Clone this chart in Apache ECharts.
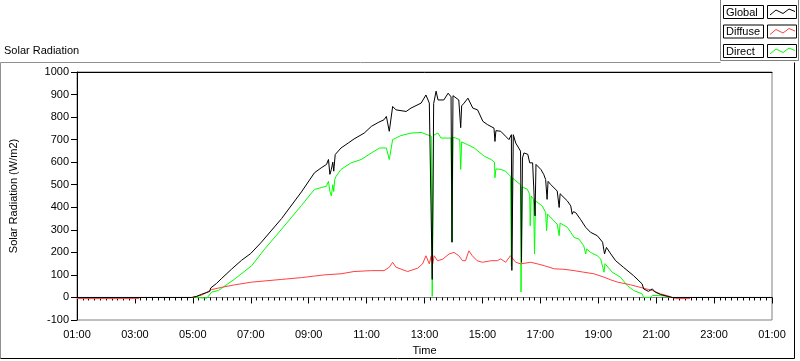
<!DOCTYPE html>
<html>
<head>
<meta charset="utf-8">
<title>Solar Radiation</title>
<script src="https://cdn.jsdelivr.net/npm/echarts@6/dist/echarts.min.js"></script>
<style>
  html, body { margin: 0; padding: 0; background: #fff; }
  #chart { width: 800px; height: 361px; }
</style>
</head>
<body>
<div id="chart"></div>
<script>
var seriesNames = ['Global', 'Diffuse', 'Direct'];
var seriesColors = ['#000000', '#ff4040', '#00ff00'];

// clock times ("25:00" = 01:00 next day), values in W/m2
var globalTimes = ['01:00','04:58','05:08','05:18','05:29','05:35','05:37','05:49','06:00','06:20','06:41','07:00','07:22','08:04','08:45','09:12','09:26','09:37','09:41','09:44','09:47','09:50','09:52','09:55','10:07','10:22','10:34','10:55','11:10','11:24','11:36','11:41','11:47','11:54','12:01','12:22','12:32','12:53','13:03','13:10','13:14','13:16','13:19','13:24','13:28','13:40','13:49','13:55','13:57','13:59','14:11','14:15','14:17','14:22','14:30','14:40','14:50','15:01','15:11','15:24','15:26','15:28','15:38','15:48','15:55','16:00','16:01','16:04','16:09','16:19','16:21','16:23','16:26','16:34','16:38','16:44','16:49','16:51','16:54','17:01','17:07','17:11','17:14','17:16','17:21','17:35','17:39','17:41','17:56','18:03','18:06','18:08','18:13','18:23','18:34','18:44','18:58','19:09','19:13','19:17','19:26','19:36','19:52','20:13','20:31','20:34','20:38','20:44','20:52','20:58','21:09','21:23','21:33','25:00'];
var globalValues = [0,0,5,14,22,27,42,62,85,125,165,195,245,350,468,553,575,590,612,546,568,600,560,634,663,685,703,729,759,776,788,803,737,847,832,825,840,862,898,862,854,80,860,915,876,876,906,890,245,895,876,753,850,862,884,840,832,781,766,751,692,740,737,715,700,722,120,722,685,649,156,619,641,635,597,597,362,590,582,568,546,523,435,515,502,472,399,460,428,406,369,380,377,347,311,289,274,245,193,222,193,163,134,97,60,38,31,27,38,24,13,5,0,0];

// null = stretch where the red trace sits under the black one
var diffuseTimes = ['01:00','03:09','03:10','05:00','05:18','05:39','06:00','06:27','07:02','08:04','08:45','09:12','09:32','10:07','10:34','11:10','11:36','11:47','11:54','12:01','12:25','12:46','12:56','13:03','13:10','13:14','13:17','13:20','13:27','13:38','13:51','14:01','14:11','14:19','14:25','14:32','14:39','14:49','15:00','15:18','15:31','15:38','15:48','15:58','16:02','16:09','16:19','16:40','16:54','17:08','17:29','17:49','18:10','18:30','18:51','19:12','19:26','19:40','20:07','20:34','20:52','21:09','21:26','21:40','22:10'];
var diffuseValues = [-5,-5,null,0,10,35,45,56,68,80,88,95,100,105,115,119,119,134,156,134,115,130,149,185,149,185,149,185,163,170,193,200,185,163,163,207,185,163,156,163,163,171,156,185,193,156,149,156,149,141,127,125,119,112,105,90,78,68,56,41,31,16,6,-5,-5];

var directTimes = ['04:58','05:29','05:33','05:39','05:53','06:27','07:02','07:29','08:04','08:45','09:12','09:26','09:37','09:41','09:44','09:47','09:50','09:52','09:54','09:57','10:07','10:28','10:49','11:10','11:27','11:41','11:47','11:54','12:11','12:32','12:53','13:14','13:16','13:19','13:28','13:34','13:55','13:57','13:59','14:05','14:13','14:15','14:17','14:29','14:43','15:04','15:18','15:25','15:26','15:28','15:38','15:48','15:58','16:00','16:02','16:05','16:19','16:20','16:22','16:26','16:33','16:38','16:39','16:41','16:46','16:48','16:50','16:53','17:04','17:11','17:13','17:15','17:18','17:28','17:35','17:39','17:41','17:56','18:03','18:10','18:20','18:30','18:34','18:36','18:44','18:58','19:05','19:12','19:14','19:17','19:29','19:46','20:00','20:13','20:31','20:34','20:48','20:52','21:09','21:22','21:26'];
var directValues = [0,-3,-9,24,31,82,141,215,303,408,479,487,494,515,470,450,500,470,523,538,568,597,612,641,663,663,612,700,718,729,732,715,5,720,729,707,707,245,710,707,700,568,690,678,663,626,612,600,531,570,568,560,538,140,530,523,500,24,490,487,480,457,318,450,435,193,428,421,406,377,296,370,362,340,325,274,330,311,289,266,259,229,193,215,200,185,171,112,150,149,112,90,53,31,16,0,0,9,8,6,0];

// x axis runs in hours after 01:00 so that min is a multiple of the interval
function toX(t) {
    var p = t.split(':');
    return +p[0] + (+p[1]) / 60 - 1;
}
function pairs(times, values) {
    return times.map(function (t, i) { return [toX(t), values[i]]; });
}
function pad(n) { return (n < 10 ? '0' : '') + n; }

var font = 'Liberation Sans, Arial, sans-serif';
var chart = echarts.init(document.getElementById('chart'));

function legendRow(i) {
    var top = 5 + i * 19.5;
    var c = seriesColors[i];
    return {
        type: 'group',
        children: [
            { type: 'rect', shape: { x: 723.5, y: top + 0.5, width: 40, height: 13 },
              style: { fill: '#fff', stroke: '#000', lineWidth: 1 } },
            { type: 'text', style: { x: 726, y: top + 7.5, text: seriesNames[i], fill: '#000',
              font: '11px ' + font, verticalAlign: 'middle' } },
            { type: 'rect', shape: { x: 767.5, y: top + 0.5, width: 29, height: 13 },
              style: { fill: '#fff', stroke: '#000', lineWidth: 1 } },
            { type: 'polyline', shape: { points: [[770, top + 10], [776, top + 5], [783, top + 8.5], [789, top + 4], [795, top + 6.5]] },
              style: { stroke: c, lineWidth: 1, fill: null } }
        ]
    };
}

var option = {
    backgroundColor: '#fff',
    animation: false,
    textStyle: { fontFamily: font },
    grid: { left: 75, right: 28, top: 72, bottom: 39, show: true, borderColor: '#808080', borderWidth: 1 },
    graphic: [
        // outer panel frame
        { type: 'polyline', shape: { points: [[0.5, 358.5], [0.5, 62.5], [720.5, 62.5]] }, style: { stroke: '#909090', lineWidth: 1, fill: null } },
        { type: 'polyline', shape: { points: [[0.5, 358.5], [794.5, 358.5], [794.5, 62.5]] }, style: { stroke: '#000', lineWidth: 1, fill: null } },
        // legend panel
        { type: 'polyline', shape: { points: [[720.5, 0], [720.5, 60.5], [798.5, 60.5], [798.5, 0]] }, style: { stroke: '#808080', lineWidth: 1, fill: null } },
        { type: 'text', style: { x: 4, y: 51, text: 'Solar Radiation', fill: '#000', font: '11px ' + font, verticalAlign: 'middle' } },
        legendRow(0), legendRow(1), legendRow(2)
    ],
    xAxis: [{
        type: 'value',
        min: 0, max: 24, interval: 2,
        name: 'Time', nameLocation: 'middle', nameGap: 25,
        nameTextStyle: { color: '#000', fontSize: 11 },
        axisLine: { show: true, lineStyle: { color: '#808080' } },
        axisTick: { show: true, length: 6, lineStyle: { color: '#000' } },
        minorTick: { show: true, splitNumber: 10, length: 3, lineStyle: { color: '#000' } },
        splitLine: { show: false },
        axisLabel: { color: '#000', fontSize: 11, margin: 9,
            formatter: function (v) { return pad((v + 1) % 24) + ':00'; } }
    }, {
        type: 'value', position: 'top', min: 0, max: 24,
        axisLine: { show: true, onZero: false, lineStyle: { color: '#000' } },
        axisTick: { show: false }, axisLabel: { show: false }, splitLine: { show: false }
    }],
    yAxis: {
        type: 'value',
        min: -100, max: 1000, interval: 100,
        name: 'Solar Radiation (W/m2)', nameLocation: 'middle', nameGap: 58, nameRotate: 90,
        nameTextStyle: { color: '#000', fontSize: 11 },
        axisLine: { show: true, lineStyle: { color: '#000' } },
        axisTick: { show: true, length: 6, lineStyle: { color: '#000' } },
        splitLine: { show: false },
        axisLabel: { color: '#000', fontSize: 11, margin: 8, formatter: function (v) { return String(v); } }
    },
    series: [
        { name: seriesNames[2], type: 'line', data: pairs(directTimes, directValues), showSymbol: false,
          lineStyle: { color: seriesColors[2], width: 1 }, itemStyle: { color: seriesColors[2] } },
        { name: seriesNames[1], type: 'line', data: pairs(diffuseTimes, diffuseValues), showSymbol: false,
          lineStyle: { color: seriesColors[1], width: 1 }, itemStyle: { color: seriesColors[1] } },
        { name: seriesNames[0], type: 'line', data: pairs(globalTimes, globalValues), showSymbol: false,
          lineStyle: { color: seriesColors[0], width: 1 }, itemStyle: { color: seriesColors[0] } }
    ]
};

chart.setOption(option);
</script>
</body>
</html>
